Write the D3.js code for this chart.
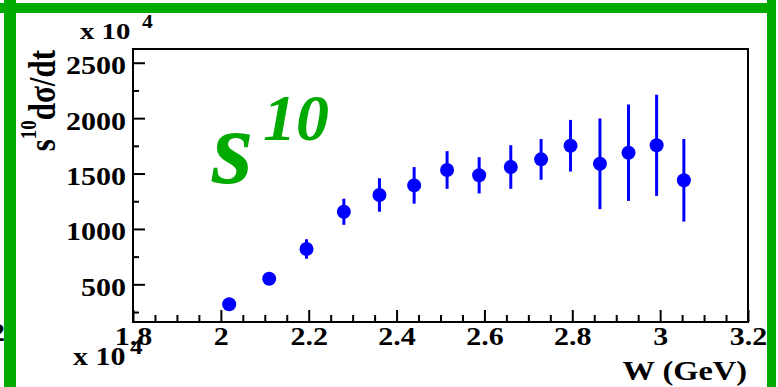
<!DOCTYPE html>
<html>
<head>
<meta charset="utf-8">
<script src="https://cdn.jsdelivr.net/npm/d3@7"></script>
<style>
  body { margin: 0; background: #fff; }
  .tick line { stroke: #000; stroke-width: 2; }
</style>
</head>
<body>
<svg width="778" height="387"></svg>
<script>
// W (GeV) of each point
const wValues = [2.019, 2.110, 2.195, 2.280, 2.361, 2.440, 2.515, 2.588, 2.660, 2.729, 2.796, 2.863, 2.928, 2.992, 3.054];
// s^10 dsigma/dt (x 10^4)
const sigValues = [320, 550, 819, 1155, 1306, 1393, 1532, 1484, 1559, 1628, 1751, 1588, 1688, 1755, 1439];
const sigErrors = [20, 25, 88, 118, 151, 165, 170, 164, 197, 184, 233, 409, 435, 457, 373];

const xMajorTicks = [1.8, 2, 2.2, 2.4, 2.6, 2.8, 3, 3.2];
const xMinorTicks = d3.range(36).map(i => 1.8 + i * 0.05).filter((d, i) => i % 4 !== 0 && d < 3.2);
const yMajorTicks = [500, 1000, 1500, 2000, 2500];
const yMinorTicks = [250, 750, 1250, 1750, 2250];

const svg = d3.select("svg");
const green = "#00aa00";
const serif = "Liberation Serif";
const stretch = 1.2; // labels in the picture are drawn wider than the font

const x = d3.scaleLinear().domain([1.8, 3.2]).range([133, 748]);
const y = d3.scaleLinear().domain([160, 2624]).range([322, 49]);

// wide bold serif text at (px, py)
const wideText = (px, py, size, str, anchor) => svg.append("text")
    .attr("transform", `translate(${px},${py}) scale(${stretch},1)`)
    .attr("font-family", serif).attr("font-weight", "bold")
    .attr("font-size", size).attr("text-anchor", anchor || "start")
    .text(str);

// green pad frame
svg.append("rect").attr("x", 0).attr("y", 3).attr("width", 776).attr("height", 10).attr("fill", green);
svg.append("rect").attr("x", 4).attr("y", 0).attr("width", 12).attr("height", 387).attr("fill", green);
svg.append("rect").attr("x", 767).attr("y", 0).attr("width", 9).attr("height", 387).attr("fill", green);

// cut-off label of the neighbour pad
wideText(5, 341, 25, "2", "end");

// axes
const xAxis = svg.append("g")
    .attr("transform", `translate(0,${y.range()[0]})`)
    .call(d3.axisBottom(x).tickValues(xMajorTicks).tickSizeInner(-12).tickSizeOuter(0)
        .tickPadding(5).tickFormat(d3.format("")))
    .attr("font-family", serif);
xAxis.select(".domain").remove();
xAxis.selectAll("text")
    .attr("fill", "#000").attr("font-family", serif).attr("font-weight", "bold")
    .attr("font-size", 25).attr("transform", `scale(${stretch},1)`);

const xMinor = svg.append("g")
    .attr("transform", `translate(0,${y.range()[0]})`)
    .call(d3.axisBottom(x).tickValues(xMinorTicks).tickSizeInner(-7).tickSizeOuter(0).tickFormat(""));
xMinor.select(".domain").remove();

const yAxis = svg.append("g")
    .attr("transform", `translate(${x.range()[0]},0)`)
    .call(d3.axisLeft(y).tickValues(yMajorTicks).tickSizeInner(-12).tickSizeOuter(0)
        .tickPadding(7).tickFormat(d3.format("")))
    .attr("font-family", serif);
yAxis.select(".domain").remove();
yAxis.selectAll("text")
    .attr("fill", "#000").attr("font-family", serif).attr("font-weight", "bold")
    .attr("font-size", 25).attr("dy", "0.44em")
    .attr("x", -7 / stretch).attr("transform", `scale(${stretch},1)`);

const yMinor = svg.append("g")
    .attr("transform", `translate(${x.range()[0]},0)`)
    .call(d3.axisLeft(y).tickValues(yMinorTicks).tickSizeInner(-6).tickSizeOuter(0).tickFormat(""));
yMinor.select(".domain").remove();

// frame
svg.append("rect")
    .attr("x", x.range()[0]).attr("y", y.range()[1])
    .attr("width", x.range()[1] - x.range()[0]).attr("height", y.range()[0] - y.range()[1])
    .attr("fill", "none").attr("stroke", "#000").attr("stroke-width", 2);

// data
const points = wValues.map((w, i) => ({ w, v: sigValues[i], e: sigErrors[i] }));

svg.append("g").selectAll("line").data(points).enter().append("line")
    .attr("x1", d => x(d.w)).attr("x2", d => x(d.w))
    .attr("y1", d => y(d.v - d.e)).attr("y2", d => y(d.v + d.e))
    .attr("stroke", "#0000ff").attr("stroke-width", 3);

svg.append("g").selectAll("circle").data(points).enter().append("circle")
    .attr("cx", d => x(d.w)).attr("cy", d => y(d.v)).attr("r", 7)
    .attr("fill", "#0000ff");

// exponent labels
wideText(80, 39, 24, "x 10");
wideText(142, 28, 18, "4");
wideText(73, 365, 25, "x 10");
wideText(130, 354, 21, "4");

// axis titles
wideText(747, 380, 27, "W (GeV)", "end");

const yTitle = svg.append("text")
    .attr("transform", `translate(55,50) rotate(-90) scale(1,${stretch})`)
    .attr("font-family", serif).attr("font-weight", "bold")
    .attr("text-anchor", "end").attr("font-size", 31);
yTitle.append("tspan").text("s");
yTitle.append("tspan").attr("font-size", 19).attr("dy", -16).text("10");
yTitle.append("tspan").attr("dy", 16).text("dσ/dt");

// big green label
const big = svg.append("text").attr("x", 212).attr("y", 183)
    .attr("font-family", serif).attr("font-weight", "bold")
    .attr("fill", green).attr("font-style", "italic");
big.append("tspan").attr("font-size", 106).text("s");
big.append("tspan").attr("font-size", 66).attr("x", 263).attr("y", 140).text("10");
</script>
</body>
</html>
